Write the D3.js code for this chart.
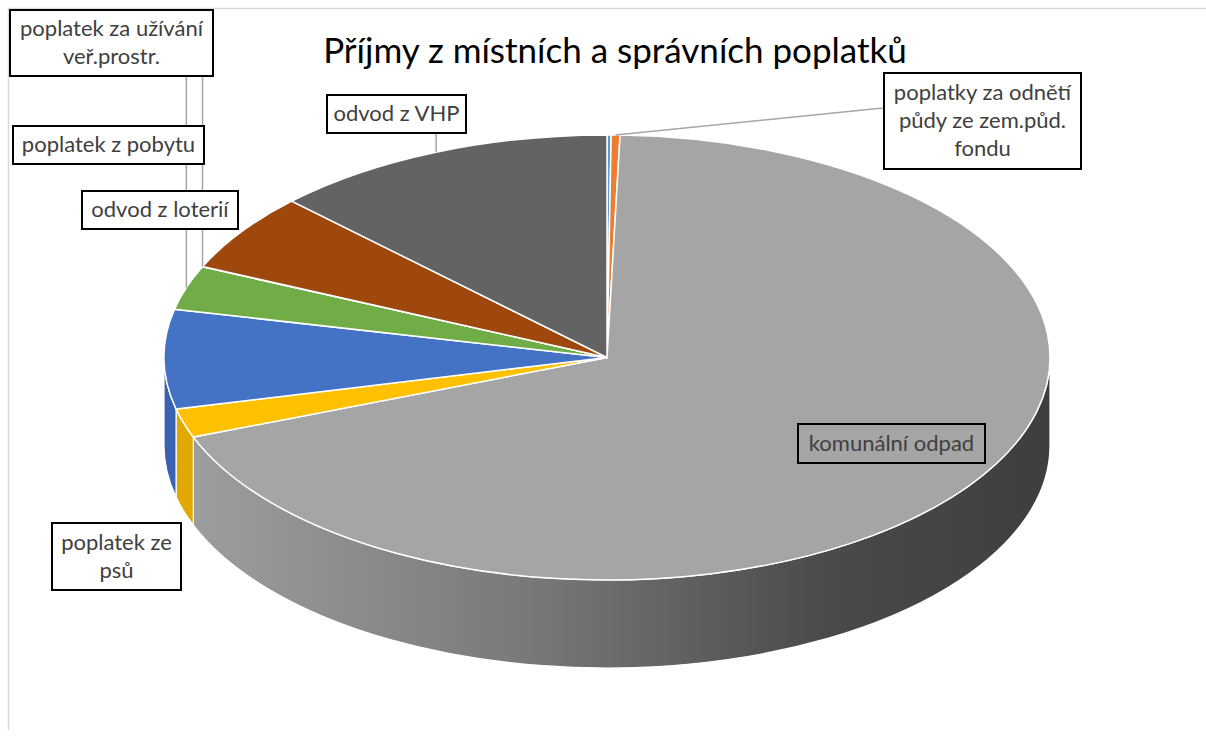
<!DOCTYPE html>
<html>
<head>
<meta charset="utf-8">
<script src="https://cdn.jsdelivr.net/npm/d3@7"></script>
<style>
  body { margin: 0; background: #fff; }
  text { font-family: Lato, "Open Sans", sans-serif; }
</style>
</head>
<body>
<svg></svg>
<script>
// Data (clockwise from 12 o'clock)
const categories = ["", "poplatky za odnětí půdy ze zem.půd. fondu", "komunální odpad", "poplatek ze psů", "",
  "poplatek za užívání veř.prostr.", "poplatek z pobytu", "odvod z loterií", "odvod z VHP"];
const values = [0.15, 0.32, 68.7, 2.1, 7.2, 3.2, 0.02, 5.7, 12.6];
const colors = ["#5B9BD5", "#ED7D31", "#A5A5A5", "#FFC000", "#4472C4", "#70AD47", "#264478", "#9E480E", "#636363"];
const sideColors = ["#4a86bd", "#d66a22", "url(#graySide)", "#e0a800", "#3a62b2", "#5f9a3a", "#1d3660", "#873c0a", "#525252"];
const title = "Příjmy z místních a správních poplatků";

const W = 1206, H = 738;
const svg = d3.select("svg").attr("width", W).attr("height", H);

// chart frame (only top + left edges visible)
svg.append("path")
  .attr("d", `M8.5,730 L8.5,8.5 L1206,8.5`)
  .attr("fill", "none")
  .attr("stroke", "#d9d9d9")
  .attr("stroke-width", 1.5);

// geometry of the tilted pie
const cx = 607, cy = 357.5, rx = 443, ry = 222.5, depth = 88;
const R = 100;

const defs = svg.append("defs");
const grad = defs.append("linearGradient")
  .attr("id", "graySide")
  .attr("gradientUnits", "userSpaceOnUse")
  .attr("x1", cx - rx).attr("x2", cx + rx)
  .attr("y1", 0).attr("y2", 0);
[[0, "#a0a0a0"], [0.4, "#7a7a7a"], [0.75, "#4a4a4a"], [1, "#3e3e3e"]].forEach(([o, c]) =>
  grad.append("stop").attr("offset", o).attr("stop-color", c));

const pie = d3.pie().sort(null).value((d) => d);
const arcs = pie(values);

const pt = (a, dy = 0) => [cx + rx * Math.sin(a), cy - ry * Math.cos(a) + dy];

// side walls – only the front half is visible
const sides = svg.append("g");
arcs.forEach((d, i) => {
  const a0 = Math.max(d.startAngle, Math.PI / 2);
  const a1 = Math.min(d.endAngle, 3 * Math.PI / 2);
  if (a0 >= a1) return;
  const [x0, y0] = pt(a0), [x1, y1] = pt(a1);
  const large = a1 - a0 > Math.PI ? 1 : 0;
  const p = `M${x0},${y0} A${rx},${ry} 0 ${large} 1 ${x1},${y1} L${x1},${y1 + depth} ` +
    `A${rx},${ry} 0 ${large} 0 ${x0},${y0 + depth} Z`;
  sides.append("path")
    .attr("d", p)
    .attr("fill", sideColors[i])
    .attr("stroke", "#fff")
    .attr("stroke-width", 1.2)
    .attr("stroke-linejoin", "round");
});

// top faces
const arcGen = d3.arc().innerRadius(0).outerRadius(R);
svg.append("g")
  .attr("transform", `translate(${cx},${cy}) scale(${rx / R},${ry / R})`)
  .selectAll("path")
  .data(arcs)
  .enter()
  .append("path")
  .attr("d", arcGen)
  .attr("fill", (d, i) => colors[i])
  .attr("stroke", "#fff")
  .attr("stroke-width", 1.5)
  .attr("vector-effect", "non-scaling-stroke");

// title
svg.append("text")
  .attr("x", 615)
  .attr("y", 63)
  .attr("text-anchor", "middle")
  .attr("font-size", 35)
  .attr("fill", "#000")
  .text(title);

// data labels (box layout)
const labelLayout = {
  1: { x: 884, y: 73, w: 197, h: 96, lines: ["poplatky za odnětí", "půdy ze zem.půd.", "fondu"], leader: [[884, 108], [873, 109]] },
  2: { x: 798, y: 424, w: 187, h: 39, lines: ["komunální odpad"], fill: "none" },
  3: { x: 52, y: 523, w: 129, h: 67, lines: ["poplatek ze", "psů"] },
  5: { x: 10, y: 10, w: 203, h: 66, lines: ["poplatek za užívání", "veř.prostr."], leaderY: 76 },
  6: { x: 13, y: 126, w: 191, h: 38, lines: ["poplatek z pobytu"], leaderY: 76 },
  7: { x: 82, y: 191, w: 156, h: 38, lines: ["odvod z loterií"] },
  8: { x: 327, y: 95, w: 139, h: 38, lines: ["odvod z VHP"], leaderY: 133 }
};

const leaders = svg.append("g");
const boxes = svg.append("g");
Object.keys(labelLayout).forEach((k) => {
  const L = labelLayout[k];
  const d = arcs[+k];
  const [ex, ey] = pt((d.startAngle + d.endAngle) / 2);
  if (L.leader || L.leaderY) {
    const pts = L.leader ? [...L.leader, [ex, ey]] : [[ex, L.leaderY], [ex, ey]];
    leaders.append("path")
      .attr("d", d3.line()(pts))
      .attr("fill", "none")
      .attr("stroke", "#a6a6a6")
      .attr("stroke-width", 1.5);
  }
  boxes.append("rect")
    .attr("x", L.x).attr("y", L.y)
    .attr("width", L.w).attr("height", L.h)
    .attr("fill", L.fill || "#fff")
    .attr("stroke", "#000")
    .attr("stroke-width", 2);
  const n = L.lines.length;
  L.lines.forEach((t, j) => {
    boxes.append("text")
      .attr("x", L.x + L.w / 2)
      .attr("y", L.y + (L.h - n * 28) / 2 + 21 + j * 28)
      .attr("text-anchor", "middle")
      .attr("font-size", 22)
      .attr("fill", "#404040")
      .text(t);
  });
});
</script>
</body>
</html>
